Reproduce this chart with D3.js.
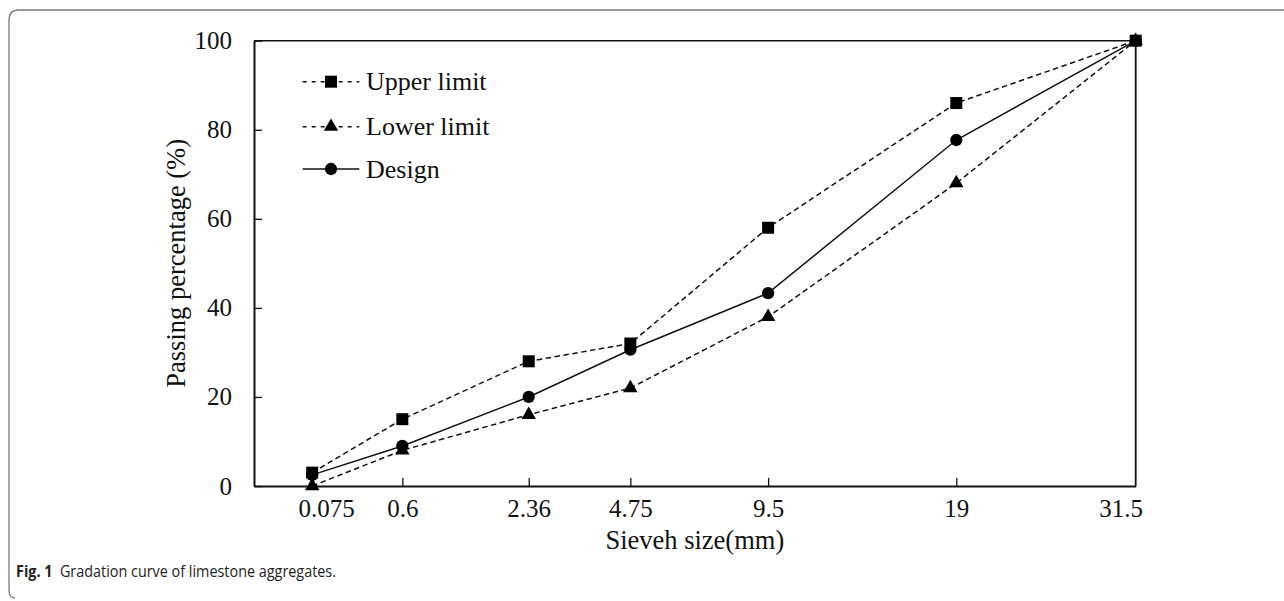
<!DOCTYPE html>
<html>
<head>
<meta charset="utf-8">
<script src="https://cdn.jsdelivr.net/npm/d3@7"></script>
<style>
  html, body { margin: 0; padding: 0; background: #fff; }
  svg { display: block; }
</style>
</head>
<body>
<svg id="chart" width="1284" height="601"></svg>
<script>
// ---- data ----
const sieveSizes = [0.075, 0.6, 2.36, 4.75, 9.5, 19, 31.5];
const sieveLabels = ["0.075", "0.6", "2.36", "4.75", "9.5", "19", "31.5"];
const upperLimit = [3, 15, 28, 32, 58, 86, 100];
const lowerLimit = [0, 8, 16, 22, 38, 68, 100];
const design = [2.5, 9, 20, 30.6, 43.3, 77.7, 100];
const yTicks = [0, 20, 40, 60, 80, 100];
const seriesNames = ["Upper limit", "Lower limit", "Design"];

const svg = d3.select("#chart");
const serif = "'Liberation Serif', 'Times New Roman', serif";

// page frame (rounded, top & left)
svg.append("path")
  .attr("d", "M15,598 Q9,598 9,590 L9,20 Q9,10 19,10 L1284,10")
  .attr("fill", "none").attr("stroke", "#7a7a7a").attr("stroke-width", 1.3);

const L = 254, R = 1135.7, T = 40.7, B = 486;
const x = d3.scalePow().exponent(0.45).domain([0, 31.5]).range([L, R]);
const y = d3.scaleLinear().domain([0, 100]).range([B, T]);

// frame top/right
svg.append("line").attr("x1", L).attr("x2", R).attr("y1", T).attr("y2", T)
  .attr("stroke", "#111").attr("stroke-width", 1.5);
svg.append("line").attr("x1", R).attr("x2", R).attr("y1", T).attr("y2", B)
  .attr("stroke", "#111").attr("stroke-width", 1.8);

// y axis
const yAxis = svg.append("g").attr("transform", `translate(${L},0)`)
  .call(d3.axisLeft(y).tickValues(yTicks).tickSizeInner(-8).tickSizeOuter(0).tickPadding(22));
yAxis.select(".domain").attr("stroke", "#111").attr("stroke-width", 2);
yAxis.selectAll(".tick line").attr("stroke", "#111").attr("stroke-width", 1.3);
yAxis.selectAll(".tick text").attr("font-family", serif).attr("font-size", 25).attr("fill", "#111");

// x axis
const labelShift = [14, 0, 0, 0, 0, 0, -15];
const xAxis = svg.append("g").attr("transform", `translate(0,${B})`)
  .call(d3.axisBottom(x).tickValues(sieveSizes).tickFormat((d, i) => sieveLabels[i])
    .tickSizeInner(-8).tickSizeOuter(0).tickPadding(13));
xAxis.select(".domain").attr("stroke", "#111").attr("stroke-width", 2);
xAxis.selectAll(".tick line").attr("stroke", "#111").attr("stroke-width", 1.3)
  .attr("display", (d, i) => (i === 0 || i === sieveSizes.length - 1) ? "none" : null);
xAxis.selectAll(".tick text").attr("font-family", serif).attr("font-size", 25).attr("fill", "#111")
  .attr("dx", (d, i) => labelShift[i]);

// axis titles
svg.append("text").attr("x", (L + R) / 2).attr("y", 549).attr("text-anchor", "middle")
  .attr("font-family", serif).attr("font-size", 26.5).attr("fill", "#111").text("Sieveh size(mm)");
svg.append("text").attr("transform", `translate(185,${(T + B) / 2}) rotate(-90)`)
  .attr("text-anchor", "middle").attr("font-family", serif).attr("font-size", 26.5)
  .attr("fill", "#111").text("Passing percentage (%)");

// series
const series = [
  { name: seriesNames[0], values: upperLimit, dash: "5.5,3.5", sym: d3.symbolSquare, size: 144 },
  { name: seriesNames[1], values: lowerLimit, dash: "5.5,3.5", sym: d3.symbolTriangle, size: 90 },
  { name: seriesNames[2], values: design, dash: null, sym: d3.symbolCircle, size: 118 }
];
const line = d3.line().x(d => x(d[0])).y(d => y(d[1]));
series.forEach(s => {
  const pts = sieveSizes.map((v, i) => [v, s.values[i]]);
  svg.append("path").datum(pts).attr("d", line).attr("fill", "none")
    .attr("stroke", "#111").attr("stroke-width", 1.5)
    .attr("stroke-dasharray", s.dash);
  svg.append("g").selectAll("path").data(pts).join("path")
    .attr("transform", d => `translate(${x(d[0])},${y(d[1])})`)
    .attr("d", d3.symbol().type(s.sym).size(s.size)).attr("fill", "#000");
});

// legend
const legY = [81.7, 126.7, 169];
series.forEach((s, i) => {
  const g = svg.append("g").attr("transform", `translate(0,${legY[i]})`);
  g.append("line").attr("x1", 302.7).attr("x2", 359.3).attr("y1", 0).attr("y2", 0)
    .attr("stroke", "#111").attr("stroke-width", 1.5).attr("stroke-dasharray", s.dash ? "4,5" : null);
  g.append("path").attr("transform", "translate(331,0)")
    .attr("d", d3.symbol().type(s.sym).size(s.size)).attr("fill", "#000");
  g.append("text").attr("x", 366).attr("y", 0).attr("dy", "0.33em")
    .attr("font-family", serif).attr("font-size", 26).attr("fill", "#111").text(s.name);
});

// caption
const cap = svg.append("text").attr("x", 16).attr("y", 577)
  .attr("font-family", "'Open Sans', 'Noto Sans', sans-serif").attr("font-size", 15.5).attr("fill", "#222");
cap.append("tspan").attr("font-weight", "bold").text("Fig. 1");
cap.append("tspan").attr("dx", 8).text("Gradation curve of limestone aggregates.");
cap.attr("textLength", 320).attr("lengthAdjust", "spacingAndGlyphs");
</script>
</body>
</html>
